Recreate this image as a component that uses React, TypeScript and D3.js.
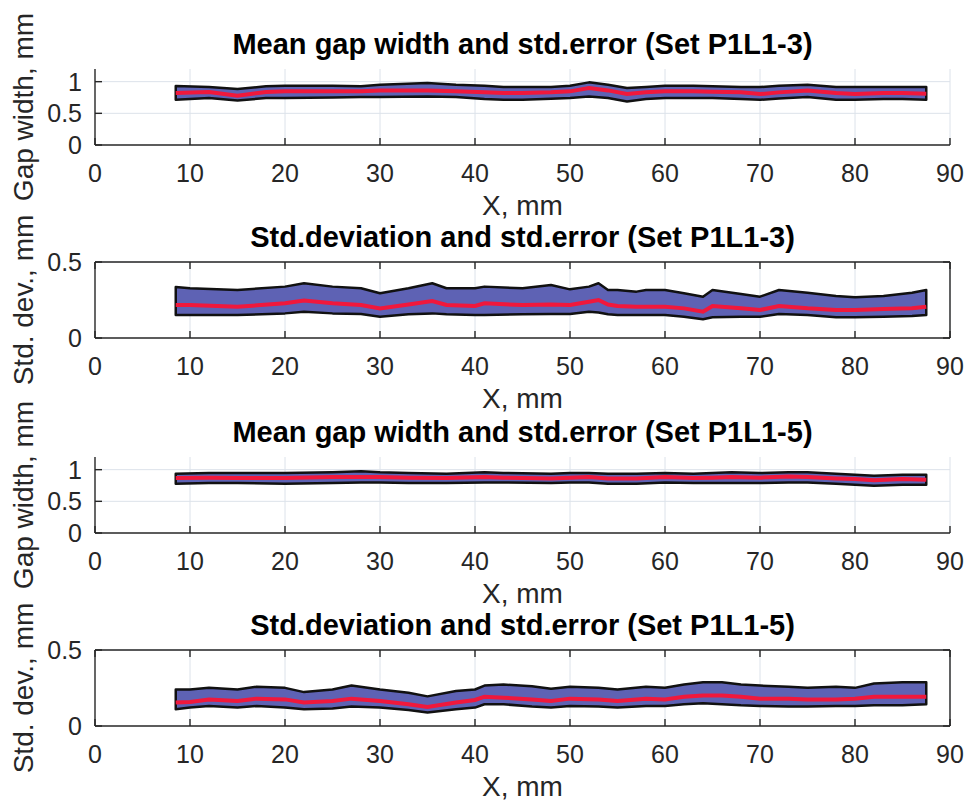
import React, { useRef, useEffect } from "react";
import * as d3 from "d3";

// tick labels
const xTicks = [0, 10, 20, 30, 40, 50, 60, 70, 80, 90];
const gapTicks = [0, 0.5, 1];
const stdTicks = [0, 0.5];

// panel 1: mean gap width, set P1L1-3
const p1X = [8.5, 12, 15, 18, 20, 25, 28, 30, 35, 38, 41, 43, 45, 48, 50, 52, 54, 56, 58, 60, 63, 65, 68, 70, 72, 75, 78, 80, 83, 85, 87.5];
const p1Upper = [0.93, 0.915, 0.884, 0.926, 0.937, 0.937, 0.926, 0.952, 0.979, 0.952, 0.937, 0.915, 0.915, 0.915, 0.937, 0.989, 0.952, 0.899, 0.915, 0.937, 0.937, 0.926, 0.915, 0.915, 0.937, 0.952, 0.915, 0.915, 0.915, 0.915, 0.915];
const p1Mean = [0.82, 0.836, 0.778, 0.836, 0.847, 0.847, 0.847, 0.862, 0.862, 0.847, 0.831, 0.82, 0.82, 0.831, 0.847, 0.899, 0.862, 0.804, 0.831, 0.847, 0.847, 0.841, 0.831, 0.804, 0.831, 0.862, 0.82, 0.804, 0.82, 0.82, 0.81];
const p1Lower = [0.714, 0.741, 0.704, 0.741, 0.741, 0.751, 0.757, 0.757, 0.767, 0.757, 0.725, 0.714, 0.714, 0.73, 0.741, 0.767, 0.741, 0.688, 0.725, 0.741, 0.741, 0.741, 0.725, 0.714, 0.735, 0.757, 0.714, 0.714, 0.725, 0.725, 0.714];

// panel 2: std. deviation, set P1L1-3
const p2X = [8.5, 10, 15, 20, 22, 25, 28, 30, 33, 35.5, 37, 40, 41, 45, 48, 50, 52, 53, 54, 55, 57, 58, 60, 62, 64, 65, 68, 70, 72, 75, 78, 80, 83, 86, 87.5];
const p2Upper = [0.335, 0.327, 0.316, 0.338, 0.36, 0.338, 0.327, 0.294, 0.327, 0.36, 0.327, 0.327, 0.338, 0.327, 0.349, 0.32, 0.338, 0.36, 0.316, 0.316, 0.305, 0.316, 0.316, 0.294, 0.272, 0.316, 0.289, 0.272, 0.316, 0.298, 0.276, 0.268, 0.276, 0.298, 0.316];
const p2Mean = [0.217, 0.217, 0.206, 0.228, 0.246, 0.228, 0.217, 0.195, 0.22, 0.243, 0.217, 0.211, 0.228, 0.217, 0.22, 0.217, 0.239, 0.25, 0.22, 0.211, 0.206, 0.206, 0.206, 0.195, 0.173, 0.211, 0.195, 0.184, 0.211, 0.195, 0.184, 0.184, 0.19, 0.195, 0.206];
const p2Lower = [0.151, 0.151, 0.151, 0.162, 0.173, 0.162, 0.158, 0.14, 0.156, 0.162, 0.156, 0.151, 0.151, 0.156, 0.158, 0.158, 0.173, 0.168, 0.156, 0.151, 0.151, 0.151, 0.151, 0.14, 0.123, 0.136, 0.14, 0.14, 0.158, 0.151, 0.136, 0.136, 0.14, 0.145, 0.151];

// panel 3: mean gap width, set P1L1-5
const p3X = [8.5, 12, 15, 20, 25, 28, 30, 33, 37, 41, 43, 48, 50, 52, 54, 57, 60, 63, 65, 67, 70, 73, 75, 78, 80, 82, 85, 87.5];
const p3Upper = [0.937, 0.947, 0.947, 0.947, 0.958, 0.974, 0.958, 0.947, 0.937, 0.958, 0.947, 0.937, 0.947, 0.947, 0.937, 0.937, 0.947, 0.937, 0.947, 0.958, 0.947, 0.958, 0.958, 0.937, 0.921, 0.905, 0.921, 0.921];
const p3Mean = [0.868, 0.873, 0.868, 0.868, 0.884, 0.884, 0.884, 0.873, 0.868, 0.884, 0.873, 0.862, 0.873, 0.884, 0.862, 0.862, 0.884, 0.868, 0.873, 0.884, 0.873, 0.894, 0.884, 0.862, 0.852, 0.831, 0.852, 0.841];
const p3Lower = [0.778, 0.788, 0.788, 0.778, 0.788, 0.799, 0.799, 0.788, 0.788, 0.799, 0.799, 0.788, 0.799, 0.799, 0.778, 0.778, 0.799, 0.788, 0.788, 0.788, 0.788, 0.799, 0.799, 0.778, 0.762, 0.746, 0.762, 0.762];

// panel 4: std. deviation, set P1L1-5
const p4X = [8.5, 10, 12, 15, 17, 20, 22, 25, 27, 30, 33, 35, 38, 40, 41, 43, 46, 48, 50, 53, 55, 58, 60, 62, 64, 66, 68, 70, 73, 75, 78, 80, 82, 85, 87.5];
const p4Upper = [0.24, 0.24, 0.251, 0.24, 0.258, 0.251, 0.223, 0.24, 0.266, 0.24, 0.219, 0.195, 0.23, 0.24, 0.266, 0.273, 0.262, 0.245, 0.258, 0.251, 0.24, 0.258, 0.251, 0.273, 0.288, 0.288, 0.273, 0.266, 0.258, 0.251, 0.258, 0.251, 0.279, 0.288, 0.288];
const p4Mean = [0.154, 0.158, 0.175, 0.164, 0.18, 0.175, 0.154, 0.164, 0.18, 0.164, 0.143, 0.125, 0.154, 0.171, 0.193, 0.186, 0.175, 0.164, 0.18, 0.175, 0.164, 0.18, 0.175, 0.193, 0.201, 0.201, 0.193, 0.18, 0.18, 0.175, 0.175, 0.18, 0.193, 0.193, 0.193];
const p4Lower = [0.11, 0.121, 0.132, 0.121, 0.132, 0.121, 0.11, 0.115, 0.128, 0.121, 0.106, 0.089, 0.11, 0.121, 0.143, 0.143, 0.128, 0.121, 0.132, 0.128, 0.121, 0.132, 0.132, 0.143, 0.149, 0.143, 0.136, 0.132, 0.128, 0.128, 0.132, 0.132, 0.136, 0.136, 0.143];

const panels = [
  { title: "Mean gap width and std.error (Set P1L1-3)", yLabel: "Gap width, mm", xs: p1X, mean: p1Mean, upper: p1Upper, lower: p1Lower, yMax: 1.2, yTicks: gapTicks, box: false },
  { title: "Std.deviation and std.error (Set P1L1-3)", yLabel: "Std. dev., mm", xs: p2X, mean: p2Mean, upper: p2Upper, lower: p2Lower, yMax: 0.5, yTicks: stdTicks, box: true },
  { title: "Mean gap width and std.error (Set P1L1-5)", yLabel: "Gap width, mm", xs: p3X, mean: p3Mean, upper: p3Upper, lower: p3Lower, yMax: 1.2, yTicks: gapTicks, box: false },
  { title: "Std.deviation and std.error (Set P1L1-5)", yLabel: "Std. dev., mm", xs: p4X, mean: p4Mean, upper: p4Upper, lower: p4Lower, yMax: 0.5, yTicks: stdTicks, box: true },
];

const FONT = "'Liberation Sans', Arial, Helvetica, sans-serif";
const AX = "#262626";

const App = () => {
  const ref = useRef<SVGSVGElement>(null);

  useEffect(() => {
    const svg = d3.select(ref.current);
    svg.selectAll("*").remove();

    const left = 95;
    const right = 950;
    const tops = [69, 262, 457, 650];
    const h = 76;
    const tick = 7;

    const x = d3.scaleLinear().domain([0, 90]).range([left, right]);

    panels.forEach((p, k) => {
      const top = tops[k];
      const bottom = top + h;
      const y = d3.scaleLinear().domain([0, p.yMax]).range([bottom, top]);
      const g = svg.append("g");

      // grid
      g.selectAll(".vg")
        .data(xTicks.filter((t) => t > 0))
        .join("line")
        .attr("x1", (d) => x(d))
        .attr("x2", (d) => x(d))
        .attr("y1", top)
        .attr("y2", bottom)
        .attr("stroke", "#dce2ea")
        .attr("stroke-width", 1);
      g.selectAll(".hg")
        .data(p.yTicks.filter((t) => t > 0))
        .join("line")
        .attr("x1", left)
        .attr("x2", right)
        .attr("y1", (d) => y(d))
        .attr("y2", (d) => y(d))
        .attr("stroke", "#dce2ea")
        .attr("stroke-width", 1);

      const idx = d3.range(p.xs.length);

      // std.error band
      const band = d3
        .area<number>()
        .x((i) => x(p.xs[i]))
        .y0((i) => y(p.lower[i]))
        .y1((i) => y(p.upper[i]));
      g.append("path")
        .datum(idx)
        .attr("d", (d) => band(d) + "Z")
        .attr("fill", "#5e62b4")
        .attr("stroke", "#111")
        .attr("stroke-width", 2.5)
        .attr("stroke-linejoin", "round");

      // mean line
      const line = d3
        .line<number>()
        .x((i) => x(p.xs[i]))
        .y((i) => y(p.mean[i]));
      g.append("path")
        .datum(idx)
        .attr("d", line)
        .attr("fill", "none")
        .attr("stroke", "#f0183c")
        .attr("stroke-width", 4);

      // axes
      const ax = g.append("g").attr("stroke", AX).attr("stroke-width", 1.4).attr("fill", "none");
      ax.append("line").attr("x1", left).attr("x2", right).attr("y1", bottom).attr("y2", bottom);
      ax.append("line").attr("x1", left).attr("x2", left).attr("y1", top).attr("y2", bottom);
      if (p.box) {
        ax.append("line").attr("x1", left).attr("x2", right).attr("y1", top).attr("y2", top);
        ax.append("line").attr("x1", right).attr("x2", right).attr("y1", top).attr("y2", bottom);
      }
      xTicks.forEach((t) => {
        ax.append("line").attr("x1", x(t)).attr("x2", x(t)).attr("y1", bottom).attr("y2", bottom - tick);
        if (p.box) ax.append("line").attr("x1", x(t)).attr("x2", x(t)).attr("y1", top).attr("y2", top + tick);
      });
      p.yTicks.forEach((t) => {
        ax.append("line").attr("x1", left).attr("x2", left + tick).attr("y1", y(t)).attr("y2", y(t));
        if (p.box) ax.append("line").attr("x1", right).attr("x2", right - tick).attr("y1", y(t)).attr("y2", y(t));
      });

      // tick labels
      g.selectAll(".xl")
        .data(xTicks)
        .join("text")
        .attr("x", (d) => x(d))
        .attr("y", bottom + 37)
        .attr("text-anchor", "middle")
        .attr("font-family", FONT)
        .attr("font-size", 25)
        .attr("fill", AX)
        .text((d) => String(d));
      g.selectAll(".yl")
        .data(p.yTicks)
        .join("text")
        .attr("x", left - 13)
        .attr("y", (d) => y(d))
        .attr("dy", "0.36em")
        .attr("text-anchor", "end")
        .attr("font-family", FONT)
        .attr("font-size", 25)
        .attr("fill", AX)
        .text((d) => String(d));

      // axis labels and title
      g.append("text")
        .attr("x", (left + right) / 2)
        .attr("y", bottom + 70)
        .attr("text-anchor", "middle")
        .attr("font-family", FONT)
        .attr("font-size", 28)
        .attr("fill", AX)
        .text("X, mm");
      g.append("text")
        .attr("transform", `translate(33,${(top + bottom) / 2}) rotate(-90)`)
        .attr("text-anchor", "middle")
        .attr("font-family", FONT)
        .attr("font-size", 28)
        .attr("fill", AX)
        .text(p.yLabel);
      g.append("text")
        .attr("x", (left + right) / 2)
        .attr("y", top - 15)
        .attr("text-anchor", "middle")
        .attr("font-family", FONT)
        .attr("font-size", 29)
        .attr("font-weight", "bold")
        .attr("fill", "#000")
        .text(p.title);
    });
  }, []);

  return (
    <svg
      ref={ref}
      width={970}
      height={803}
      style={{ position: "absolute", left: 0, top: 0, background: "#fff" }}
    />
  );
};

export default App;
